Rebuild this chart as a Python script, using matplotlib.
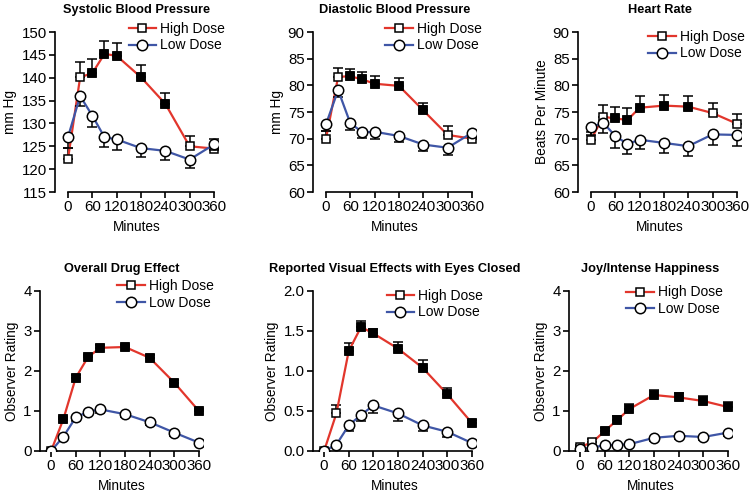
import numpy as np
import matplotlib
matplotlib.use('Agg')
import matplotlib.pyplot as plt

plt.rcParams['font.family'] = ['Liberation Sans', 'DejaVu Sans']

# DATA

minutes = [0, 30, 60, 90, 120, 180, 240, 300, 360]

titles = ['Systolic Blood Pressure', 'Diastolic Blood Pressure', 'Heart Rate',
          'Overall Drug Effect', 'Reported Visual Effects with Eyes Closed',
          'Joy/Intense Happiness']
ylabels = ['mm Hg', 'mm Hg', 'Beats Per Minute',
           'Observer Rating', 'Observer Rating', 'Observer Rating']
ylims = [(115, 150), (60, 90), (60, 90), (0, 4), (0, 2.0), (0, 4)]
yticks = [[115, 120, 125, 130, 135, 140, 145, 150],
          [60, 65, 70, 75, 80, 85, 90],
          [60, 65, 70, 75, 80, 85, 90],
          [0, 1, 2, 3, 4],
          [0.0, 0.5, 1.0, 1.5, 2.0],
          [0, 1, 2, 3, 4]]

high_sys = [122.2, 140.1, 141.0, 145.2, 144.8, 140.1, 134.3, 125.0, 124.5]
high_sys_err = [2.5, 3.3, 3.0, 2.9, 2.9, 2.6, 2.3, 2.2, 2.0]
low_sys = [127.0, 136.0, 131.7, 127.0, 126.5, 124.6, 124.0, 122.1, 125.4]
low_sys_err = [2.3, 2.2, 2.4, 2.2, 2.4, 1.9, 2.1, 1.9, 1.2]
sig_sys = [0, 0, 1, 1, 1, 1, 1, 0, 0]

high_dia = [70.0, 81.6, 81.7, 81.1, 80.3, 79.9, 75.3, 70.7, 70.0]
high_dia_err = [1.4, 1.6, 1.4, 1.4, 1.4, 1.4, 1.4, 1.6, 0.8]
low_dia = [72.7, 79.1, 72.9, 71.2, 71.3, 70.5, 68.9, 68.3, 71.1]
low_dia_err = [1.3, 1.3, 1.2, 1.1, 1.3, 1.2, 1.2, 1.3, 0.8]
sig_dia = [0, 0, 1, 1, 1, 1, 1, 0, 0]

high_hr = [69.8, 74.1, 73.8, 73.5, 75.8, 76.2, 76.0, 74.8, 72.8]
high_hr_err = [1.5, 2.2, 2.2, 2.2, 2.2, 2.0, 2.0, 1.9, 1.8]
low_hr = [72.1, 73.0, 70.5, 69.0, 69.8, 69.2, 68.6, 70.8, 70.7]
low_hr_err = [1.5, 2.0, 2.2, 1.9, 1.8, 1.8, 1.9, 1.9, 2.0]
sig_hr = [0, 0, 1, 1, 1, 1, 1, 0, 0]

high_ode = [0.0, 0.80, 1.83, 2.35, 2.58, 2.60, 2.33, 1.71, 1.00]
high_ode_err = [0.0, 0.06, 0.06, 0.06, 0.06, 0.06, 0.06, 0.06, 0.06]
low_ode = [0.0, 0.36, 0.84, 0.98, 1.04, 0.92, 0.72, 0.46, 0.21]
low_ode_err = [0.0, 0.06, 0.08, 0.08, 0.1, 0.08, 0.08, 0.08, 0.06]
sig_ode = [0, 1, 1, 1, 1, 1, 1, 1, 1]

high_vis = [0.0, 0.47, 1.25, 1.55, 1.47, 1.28, 1.04, 0.71, 0.35]
high_vis_err = [0.0, 0.10, 0.10, 0.08, 0.06, 0.08, 0.10, 0.08, 0.04]
low_vis = [0.0, 0.08, 0.32, 0.45, 0.57, 0.47, 0.32, 0.24, 0.10]
low_vis_err = [0.0, 0.03, 0.07, 0.08, 0.09, 0.09, 0.07, 0.06, 0.03]
sig_vis = [0, 0, 1, 1, 1, 1, 1, 1, 1]

high_joy = [0.10, 0.22, 0.50, 0.77, 1.05, 1.40, 1.34, 1.25, 1.10]
high_joy_err = [0.05, 0.08, 0.08, 0.10, 0.12, 0.12, 0.12, 0.12, 0.12]
low_joy = [0.05, 0.08, 0.15, 0.15, 0.17, 0.33, 0.38, 0.35, 0.46]
low_joy_err = [0.03, 0.04, 0.05, 0.05, 0.05, 0.07, 0.07, 0.07, 0.08]
sig_joy = [0, 0, 1, 1, 1, 1, 1, 1, 1]

highs = [high_sys, high_dia, high_hr, high_ode, high_vis, high_joy]
high_errs = [high_sys_err, high_dia_err, high_hr_err, high_ode_err, high_vis_err, high_joy_err]
lows = [low_sys, low_dia, low_hr, low_ode, low_vis, low_joy]
low_errs = [low_sys_err, low_dia_err, low_hr_err, low_ode_err, low_vis_err, low_joy_err]
sigs = [sig_sys, sig_dia, sig_hr, sig_ode, sig_vis, sig_joy]

#=================================================================================================#

# LAYOUT (pixels in a 750x495 figure: left, top of axes)

W, H = 750, 495
ax_w, ax_h = 163, 160
lefts = [55, 313, 578, 40, 313, 569]
tops = [32, 32, 32, 291, 291, 291]
leg_anchor = [(1.045, 1.065), (1.035, 1.065), (1.025, 1.015),
              (1.065, 1.075), (1.045, 1.015), (0.945, 1.035)]

red = '#E2362C'
blue = '#3F56A6'

fig = plt.figure(figsize=(7.5, 4.95), dpi=100)

for k in range(6):
    ax = fig.add_axes([lefts[k] / W, (H - tops[k] - ax_h) / H, ax_w / W, ax_h / H])
    top_row = k < 3
    x0 = -32 if top_row else -27

    n = len(minutes)
    hi = np.array(highs[k])
    lo = np.array(lows[k])
    sig = np.array(sigs[k], dtype=bool)
    x = np.array(minutes)

    # high dose: line + upward error bars
    ax.errorbar(x, hi, yerr=[np.zeros(n), high_errs[k]], fmt='none', ecolor='black',
                elinewidth=1.1, capsize=3.5, capthick=1.1, zorder=2)
    ax.plot(x, hi, color=red, lw=1.6, marker='s', ms=6, mfc='white', mec='black',
            mew=1.1, zorder=3, label='High Dose')
    ax.plot(x[sig], hi[sig], ls='none', marker='s', ms=6, mfc='black', mec='black',
            mew=1.1, zorder=3.5)

    # low dose: line + downward error bars
    ax.errorbar(x, lo, yerr=[low_errs[k], np.zeros(n)], fmt='none', ecolor='black',
                elinewidth=1.1, capsize=3.5, capthick=1.1, zorder=4)
    ax.plot(x, lo, color=blue, lw=1.6, marker='o', ms=7.5, mfc='white', mec='black',
            mew=1.1, zorder=5, label='Low Dose')

    ax.set_xlim(x0, 370)
    ax.set_ylim(*ylims[k])
    ax.set_xticks([0, 60, 120, 180, 240, 300, 360])
    ax.set_yticks(yticks[k])
    if k == 4:
        ax.set_yticklabels(['%.1f' % v for v in yticks[k]])

    for s in ['top', 'right']:
        ax.spines[s].set_visible(False)
    for s in ['left', 'bottom']:
        ax.spines[s].set_linewidth(1.2)
    if top_row:
        ax.spines['bottom'].set_bounds(0, 360)
    else:
        ax.spines['bottom'].set_bounds(x0, 360)

    ax.tick_params(axis='both', direction='out', length=4, width=1.2,
                   labelsize=10.8, pad=2)

    ax.set_title(titles[k], fontsize=9.2, fontweight='bold', pad=14)
    ax.set_xlabel('Minutes', fontsize=9.8, labelpad=4)
    ax.set_ylabel(ylabels[k], fontsize=9.8, labelpad=3)

    ax.legend(loc='upper right', bbox_to_anchor=leg_anchor[k], frameon=False,
              fontsize=10, handlelength=2.0, handletextpad=0.3, labelspacing=0.2,
              borderpad=0, borderaxespad=0)

plt.savefig('out.png', dpi=100)
